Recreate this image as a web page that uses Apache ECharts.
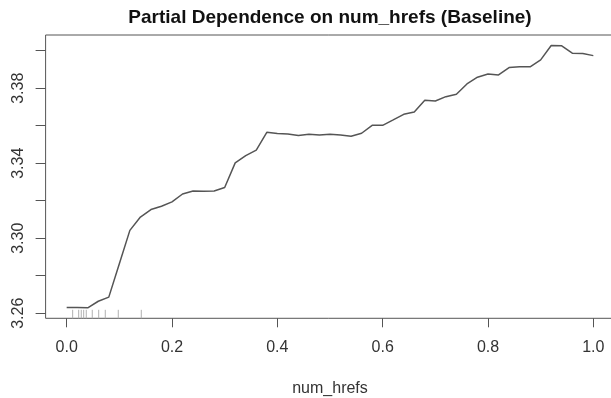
<!DOCTYPE html>
<html>
<head>
<meta charset="utf-8">
<script src="https://cdn.jsdelivr.net/npm/echarts@6/dist/echarts.min.js"></script>
<style>
html,body{margin:0;padding:0;background:#fff;}
#chart{width:611px;height:398px;}
</style>
</head>
<body>
<div id="chart"></div>
<script>
const chartTitle = 'Partial Dependence on num_hrefs (Baseline)';
const xLabel = 'num_hrefs';
const xValues = [0.00,0.02,0.04,0.06,0.08,0.10,0.12,0.14,0.16,0.18,0.20,0.22,0.24,0.26,0.28,0.30,0.32,0.34,0.36,0.38,0.40,0.42,0.44,0.46,0.48,0.50,0.52,0.54,0.56,0.58,0.60,0.62,0.64,0.66,0.68,0.70,0.72,0.74,0.76,0.78,0.80,0.82,0.84,0.86,0.88,0.90,0.92,0.94,0.96,0.98,1.00];
const pdValues = [3.2631,3.2630,3.2629,3.2664,3.2686,3.2864,3.3042,3.3113,3.3153,3.3171,3.3194,3.3236,3.3252,3.3251,3.3252,3.3271,3.3402,3.3441,3.3470,3.3565,3.3558,3.3556,3.3548,3.3555,3.3551,3.3555,3.3550,3.3544,3.3560,3.3602,3.3602,3.3631,3.3661,3.3673,3.3736,3.3732,3.3755,3.3768,3.3823,3.3859,3.3876,3.3871,3.3910,3.3915,3.3914,3.3951,3.4028,3.4026,3.3987,3.3985,3.3974];
const rugValues = [0.0114,0.0228,0.0277,0.0323,0.0372,0.0486,0.0608,0.0733,0.0980,0.1417];
const xTicks = [0.0,0.2,0.4,0.6,0.8,1.0];
const yTicks = [3.26,3.28,3.30,3.32,3.34,3.36,3.38,3.40];
const yTickLabels = [3.26,3.30,3.34,3.38];

// R-style 4% axis padding
const xLo = Math.min(...xValues), xHi = Math.max(...xValues);
const yLo = Math.min(...pdValues), yHi = Math.max(...pdValues);
const xPad = (xHi - xLo) * 0.04, yPad = (yHi - yLo) * 0.04;
const xMin = xLo - xPad, xMax = xHi + xPad;
const yMin = yLo - yPad, yMax = yHi + yPad;

const FONT = "'Liberation Sans', Arial, Helvetica, sans-serif";
const chart = echarts.init(document.getElementById('chart'), null, {renderer:'canvas'});
chart.setOption({
  animation: false,
  backgroundColor: '#fff',
  graphic: [{
    type: 'text', x: 330, y: 18, silent: true,
    style: {text: chartTitle, align: 'center', verticalAlign: 'middle',
      font: "bold 19px 'Liberation Sans', Arial, Helvetica, sans-serif", fill: '#111'}
  }],
  grid: {
    left: 45.6, width: 568.8, top: 35, bottom: 79.7,
    containLabel: false, outerBoundsMode: 'none',
    show: true, borderColor: '#555', borderWidth: 1, backgroundColor: 'transparent'
  },
  xAxis: {
    type: 'value', min: xMin, max: xMax,
    name: xLabel, nameLocation: 'middle', nameGap: 62,
    nameTextStyle: {fontFamily: FONT, fontSize: 16, color: '#333'},
    axisLine: {show: false, onZero: false},
    splitLine: {show: false},
    axisTick: {show: true, customValues: xTicks, length: 9, lineStyle: {color: '#555'}},
    axisLabel: {customValues: xTicks, margin: 21, fontFamily: FONT, fontSize: 16, color: '#333',
      formatter: v => Number(v).toFixed(1)}
  },
  yAxis: {
    type: 'value', min: yMin, max: yMax,
    axisLine: {show: false, onZero: false},
    splitLine: {show: false},
    axisTick: {show: true, customValues: yTicks, length: 10, lineStyle: {color: '#555'}},
    axisLabel: {customValues: yTickLabels, rotate: 90, margin: 19, fontFamily: FONT, fontSize: 16, color: '#333',
      formatter: v => Number(v).toFixed(2)}
  },
  series: [
    {
      type: 'line',
      data: xValues.map((x, i) => [x, pdValues[i]]),
      showSymbol: false,
      lineStyle: {color: '#555', width: 1.5},
      silent: true
    },
    {
      type: 'custom',
      data: rugValues.map(v => [v, yMin]),
      encode: {x: 0, y: 1},
      silent: true,
      renderItem: (params, api) => {
        const p = api.coord([api.value(0), api.value(1)]);
        return {type: 'line', shape: {x1: p[0], y1: p[1], x2: p[0], y2: p[1] - 8.5},
          style: {stroke: '#b0b0b0', lineWidth: 1}};
      }
    }
  ]
});
</script>
</body>
</html>
